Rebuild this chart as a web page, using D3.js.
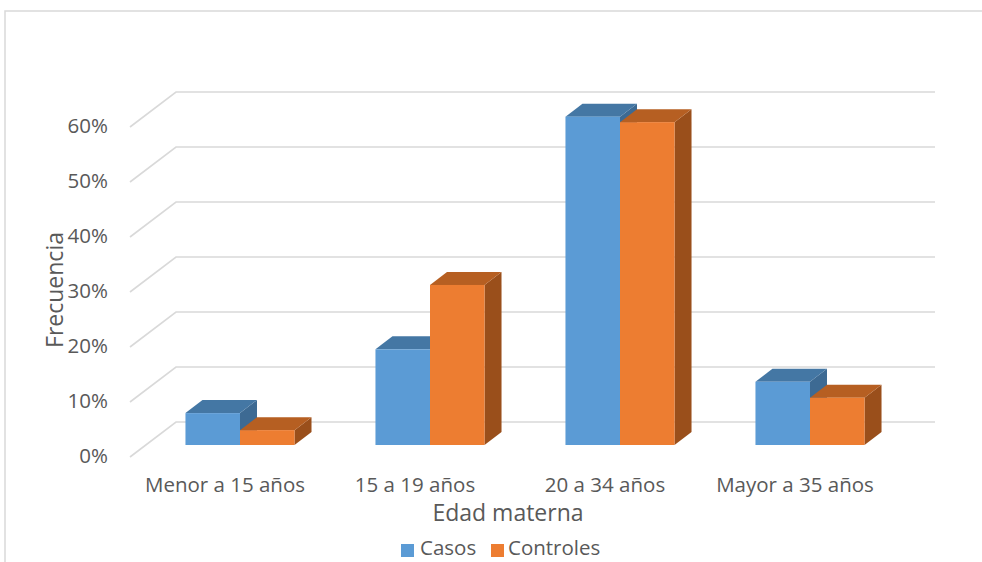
<!DOCTYPE html>
<html lang="es">
  <head>
    <meta charset="UTF-8" />
    <title>Edad materna</title>
    <script src="https://d3js.org/d3.v7.min.js"></script>
    <style>
      body {
        margin: 0;
        background: #fff;
        font-family: "Open Sans", Lato, sans-serif;
      }
      .tick-label {
        font-size: 20.5px;
        fill: #595959;
      }
      .axis-title {
        font-size: 23px;
        fill: #595959;
      }
      .legend-text {
        font-size: 20.5px;
        fill: #595959;
      }
    </style>
  </head>
  <body>
    <svg id="chart" width="982" height="562"></svg>
    <script>
      // data
      const categories = ["Menor a 15 años", "15 a 19 años", "20 a 34 años", "Mayor a 35 años"];
      const seriesNames = ["Casos", "Controles"];
      const casos = [0.058, 0.174, 0.597, 0.115];
      const controles = [0.027, 0.291, 0.587, 0.086];
      const yTicks = [0, 0.1, 0.2, 0.3, 0.4, 0.5, 0.6];

      const colors = {
        Casos: { front: "#5b9bd5", top: "#4477a4", side: "#3d6a93" },
        Controles: { front: "#ed7d31", top: "#b65f22", side: "#9a4f1b" }
      };

      const svg = d3.select("#chart");

      // chart frame
      svg.append("rect")
        .attr("x", 5).attr("y", 11)
        .attr("width", 1000).attr("height", 600)
        .attr("fill", "none")
        .attr("stroke", "#d9d9d9")
        .attr("stroke-width", 1.5);

      const y = d3.scaleLinear().domain([0, 0.6]).range([445, 115]);
      const x0 = d3.scaleBand().domain(categories).range([145, 905])
        .paddingInner(0.426).paddingOuter(0.213);
      const x1 = d3.scaleBand().domain(seriesNames).range([0, x0.bandwidth()]);

      // floor/back geometry for the 3d gridlines
      const frontX = 130, backX = 176, rightX = 935;
      const frontDy = 12, backDy = -23;
      const depth = { dx: 17, dy: -13 };

      const grid = svg.append("g");
      yTicks.forEach(v => {
        grid.append("polyline")
          .attr("points", [
            [frontX, y(v) + frontDy],
            [backX, y(v) + backDy],
            [rightX, y(v) + backDy]
          ].map(p => p.join(",")).join(" "))
          .attr("fill", "none")
          .attr("stroke", "#d9d9d9")
          .attr("stroke-width", 1.6);
        grid.append("text")
          .attr("class", "tick-label")
          .attr("x", 108)
          .attr("y", y(v) + frontDy + 1)
          .attr("text-anchor", "end")
          .attr("dominant-baseline", "middle")
          .text(d3.format(".0%")(v));
      });

      // bars
      const rows = [];
      categories.forEach((c, i) => {
        rows.push({ cat: c, series: "Casos", value: casos[i] });
        rows.push({ cat: c, series: "Controles", value: controles[i] });
      });

      const bars = svg.append("g");
      rows.forEach(d => {
        const xl = x0(d.cat) + x1(d.series);
        const xr = xl + x1.bandwidth();
        const yt = y(d.value);
        const yb = y(0);
        const col = colors[d.series];
        const g = bars.append("g");
        // side face
        g.append("polygon")
          .attr("points", [[xr, yt], [xr + depth.dx, yt + depth.dy], [xr + depth.dx, yb + depth.dy], [xr, yb]]
            .map(p => p.join(",")).join(" "))
          .attr("fill", col.side);
        // top face
        g.append("polygon")
          .attr("points", [[xl, yt], [xl + depth.dx, yt + depth.dy], [xr + depth.dx, yt + depth.dy], [xr, yt]]
            .map(p => p.join(",")).join(" "))
          .attr("fill", col.top);
        // front face
        g.append("rect")
          .attr("x", xl).attr("y", yt)
          .attr("width", x1.bandwidth()).attr("height", yb - yt)
          .attr("fill", col.front);
      });

      // category labels (on the front plane)
      svg.append("g").selectAll("text")
        .data(categories)
        .join("text")
        .attr("class", "tick-label")
        .attr("x", d => x0(d) + x0.bandwidth() / 2 - 15)
        .attr("y", 487)
        .attr("text-anchor", "middle")
        .attr("dominant-baseline", "middle")
        .text(d => d);

      // axis titles
      svg.append("text")
        .attr("class", "axis-title")
        .attr("transform", "translate(57,290) rotate(-90)")
        .attr("text-anchor", "middle")
        .attr("dominant-baseline", "middle")
        .text("Frecuencia");

      svg.append("text")
        .attr("class", "axis-title")
        .attr("x", 508).attr("y", 515)
        .attr("text-anchor", "middle")
        .attr("dominant-baseline", "middle")
        .text("Edad materna");

      // legend
      const legendX = [401, 491];
      const legend = svg.append("g");
      seriesNames.forEach((s, i) => {
        legend.append("rect")
          .attr("x", legendX[i]).attr("y", 544)
          .attr("width", 13).attr("height", 13)
          .attr("fill", colors[s].front);
        legend.append("text")
          .attr("class", "legend-text")
          .attr("x", legendX[i] + (i === 0 ? 19 : 17)).attr("y", 550)
          .attr("dominant-baseline", "middle")
          .text(s);
      });
    </script>
  </body>
</html>
